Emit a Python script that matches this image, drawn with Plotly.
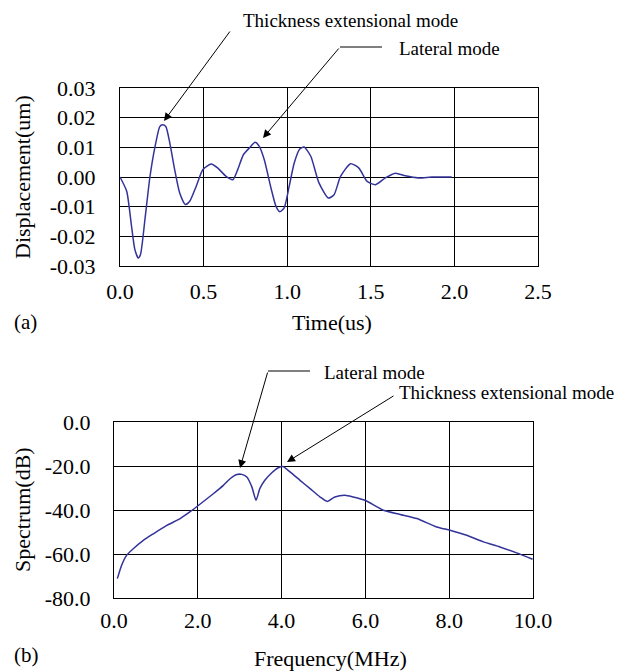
import plotly.graph_objects as go

# ---- data: (a) displacement vs time ----
time_us = [0.0, 0.04, 0.069, 0.089, 0.109, 0.123, 0.149, 0.179, 0.208, 0.238, 0.254, 0.274, 0.298, 0.327,
           0.357, 0.391, 0.417, 0.456, 0.496, 0.546, 0.585, 0.635, 0.675, 0.704, 0.738, 0.774, 0.808,
           0.833, 0.863, 0.903, 0.933, 0.956, 0.982, 1.012, 1.042, 1.075, 1.101, 1.141, 1.190, 1.246,
           1.280, 1.319, 1.379, 1.429, 1.478, 1.528, 1.587, 1.647, 1.706, 1.786, 1.865, 1.984]
displacement = [0.0, -0.0048, -0.0166, -0.0245, -0.0273, -0.026, -0.0144, 0.0, 0.0098, 0.017, 0.0176,
                0.017, 0.0114, 0.0025, -0.0054, -0.0093, -0.0082, -0.0031, 0.0025, 0.0044, 0.003,
                0.0002, -0.0009, 0.0025, 0.0075, 0.0098, 0.0117, 0.0103, 0.0058, -0.0037, -0.0099,
                -0.0117, -0.0104, -0.0031, 0.0047, 0.0094, 0.0101, 0.007, -0.002, -0.0071, -0.006,
                0.0002, 0.0045, 0.003, -0.0015, -0.0026, -0.0003, 0.0013, 0.0004, -0.0003, 0.0, 0.0]
disp_tick_vals = [-0.03, -0.02, -0.01, 0.0, 0.01, 0.02, 0.03]
disp_tick_text = ["-0.03", "-0.02", "-0.01", "0.00", "0.01", "0.02", "0.03"]

# ---- data: (b) spectrum vs frequency ----
freq_mhz = [0.08, 0.18, 0.30, 0.46, 0.70, 0.94, 1.26, 1.58, 1.81, 2.05, 2.37, 2.61, 2.77, 2.93, 3.05,
            3.17, 3.29, 3.39, 3.48, 3.60, 3.76, 3.92, 4.03, 4.20, 4.44, 4.68, 4.92, 5.09, 5.27, 5.51,
            5.71, 5.99, 6.43, 6.83, 7.23, 7.70, 8.02, 8.42, 8.82, 9.21, 9.61, 9.99]
spectrum_db = [-71.2, -65.2, -60.6, -57.6, -53.8, -50.8, -47.0, -43.9, -40.9, -37.4, -32.6, -28.8,
               -25.8, -23.9, -23.8, -25.0, -29.5, -35.6, -30.3, -26.5, -23.2, -20.8, -20.2, -22.7,
               -26.5, -30.3, -34.1, -36.1, -34.1, -33.3, -34.1, -35.6, -40.1, -42.0, -43.9, -47.7,
               -49.2, -51.5, -54.5, -56.8, -59.5, -62.4]
spec_tick_vals = [-80, -60, -40, -20, 0]
spec_tick_text = ["-80.0", "-60.0", "-40.0", "-20.0", "0.0"]

# the page adds an 8px body margin, so the figure is made 8px smaller and
# all page positions below are converted to figure positions
OFF = 8
W, H = 623 - OFF, 672 - OFF
FONT = "Liberation Serif"
LINE = "#33339a"

def px(x):
    return (x - OFF) / W

def py(y):
    return 1 - (y - OFF) / H

fig = go.Figure()
fig.add_trace(go.Scatter(x=time_us, y=displacement, mode="lines", xaxis="x", yaxis="y",
                         line=dict(color=LINE, width=1.5, shape="spline", smoothing=0.6),
                         showlegend=False, hoverinfo="skip"))
fig.add_trace(go.Scatter(x=freq_mhz, y=spectrum_db, mode="lines", xaxis="x2", yaxis="y2",
                         line=dict(color=LINE, width=1.5, shape="spline", smoothing=0.6),
                         showlegend=False, hoverinfo="skip"))

axis_common = dict(showline=True, mirror=True, linecolor="black", linewidth=1,
                   showgrid=True, gridcolor="black", gridwidth=1, zeroline=False,
                   automargin=False,
                   ticks="", tickfont=dict(family=FONT, size=22, color="black"), fixedrange=True)

fig.update_layout(
    width=W, height=H, margin=dict(l=0, r=0, t=0, b=0, autoexpand=False),
    paper_bgcolor="white", plot_bgcolor="white", showlegend=False,
    font=dict(family=FONT, color="black"),
    xaxis=dict(domain=[px(120), px(538)], range=[0, 2.5], dtick=0.5, tickformat=".1f",
               anchor="y", ticklabelstandoff=6, **axis_common),
    yaxis=dict(domain=[py(266), py(88)], range=[-0.03, 0.03], tickmode="array",
               tickvals=disp_tick_vals, ticktext=disp_tick_text,
               anchor="x", ticklabelstandoff=19, **axis_common),
    xaxis2=dict(domain=[px(114), px(533)], range=[0, 10], dtick=2, tickformat=".1f",
                anchor="y2", ticklabelstandoff=3, **axis_common),
    yaxis2=dict(domain=[py(598), py(422)], range=[-80, 0], tickmode="array",
                tickvals=spec_tick_vals, ticktext=spec_tick_text,
                anchor="x2", ticklabelstandoff=18, **axis_common),
)

ann = []
def text(x, y, s, size=22, xanchor="center", angle=0):
    ann.append(dict(x=px(x), y=py(y), xref="paper", yref="paper", text=s, showarrow=False,
                    xanchor=xanchor, yanchor="middle", textangle=angle,
                    font=dict(family=FONT, size=size, color="black")))

def arrow(tail, tip):
    ann.append(dict(x=px(tip[0]), y=py(tip[1]), xref="paper", yref="paper", text="",
                    showarrow=True, ax=tail[0] - tip[0], ay=tail[1] - tip[1],
                    arrowhead=2, arrowsize=1.6, arrowwidth=1, arrowcolor="black"))

# axis titles and panel labels
text(22, 177, "Displacement(um)", angle=-90)
text(332, 322, "Time(us)")
text(12, 322, "(a)", size=21, xanchor="left")
text(22, 510, "Spectrum(dB)", angle=-90)
text(330, 658, "Frequency(MHz)")
text(12, 655, "(b)", size=21, xanchor="left")

# panel (a) annotations
text(241, 20, "Thickness extensional mode", size=19, xanchor="left")
arrow((231, 30), (164, 121))
text(397, 49, "Lateral mode", size=19, xanchor="left")
arrow((340, 47), (263, 138))

# panel (b) annotations
text(322, 372, "Lateral mode", size=19, xanchor="left")
arrow((268, 371), (240, 468))
text(397, 392, "Thickness extensional mode", size=19, xanchor="left")
arrow((395, 395), (287, 462))

fig.update_layout(annotations=ann)

shapes = [
    dict(type="line", xref="paper", yref="paper", x0=px(340), y0=py(47), x1=px(382), y1=py(47),
         line=dict(color="black", width=1)),
    dict(type="line", xref="paper", yref="paper", x0=px(268), y0=py(371), x1=px(310), y1=py(371),
         line=dict(color="black", width=1)),
]
fig.update_layout(shapes=shapes)

fig.write_html("out.html")
